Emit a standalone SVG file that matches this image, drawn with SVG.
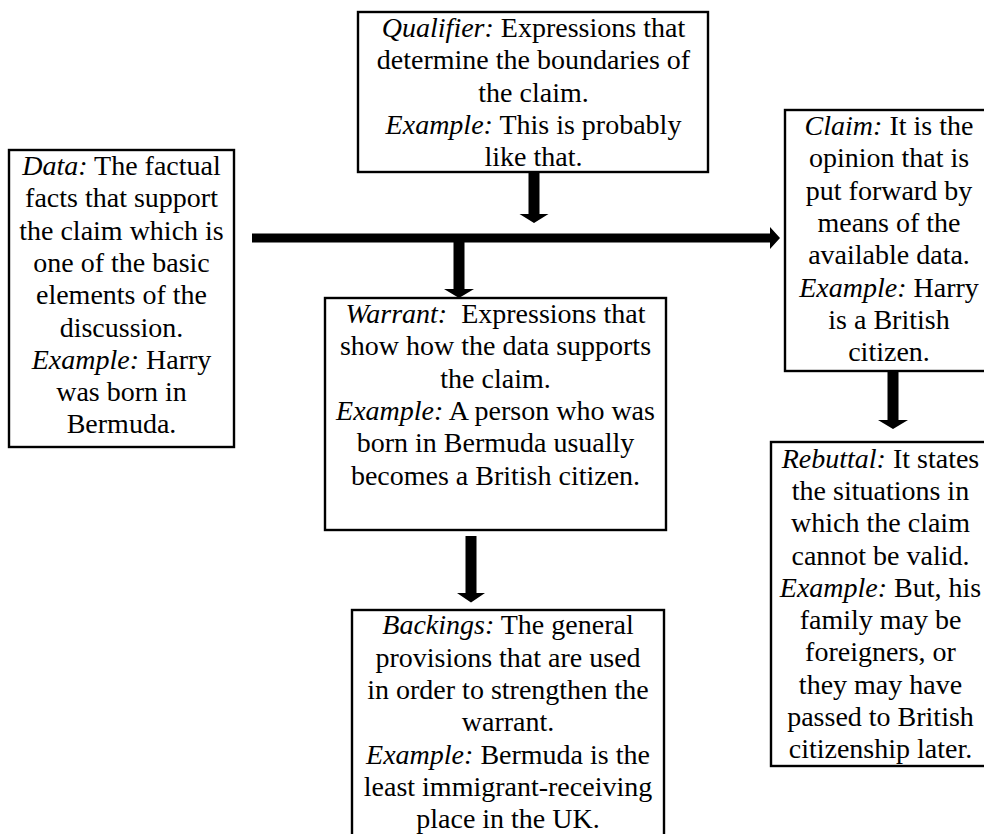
<svg xmlns="http://www.w3.org/2000/svg" width="984" height="834" viewBox="0 0 984 834">
<style>
.box{fill:#fff;stroke:#000;stroke-width:2.4}
text{font-family:"Liberation Serif","Times New Roman",serif;font-size:28px;fill:#000;text-anchor:middle}
.i{font-style:italic}
.arr{fill:#000;stroke:none}
</style>
<rect width="984" height="834" fill="#fff"/>
<g id="qualifier">
<rect class="box" x="358" y="12" width="350" height="160"/>
<text x="533.5" y="37"><tspan class="i">Qualifier:</tspan> Expressions that</text>
<text x="533.5" y="69.3">determine the boundaries of</text>
<text x="533.5" y="101.6">the claim.</text>
<text x="533.5" y="133.9"><tspan class="i">Example:</tspan> This is probably</text>
<text x="533.5" y="166.2">like that.</text>
</g>
<g id="data">
<rect class="box" x="9" y="150" width="225" height="297"/>
<text x="121.5" y="175"><tspan class="i">Data:</tspan> The factual</text>
<text x="121.5" y="207.3">facts that support</text>
<text x="121.5" y="239.6">the claim which is</text>
<text x="121.5" y="271.9">one of the basic</text>
<text x="121.5" y="304.2">elements of the</text>
<text x="121.5" y="336.5">discussion.</text>
<text x="121.5" y="368.8"><tspan class="i">Example:</tspan> Harry</text>
<text x="121.5" y="401.1">was born in</text>
<text x="121.5" y="433.4">Bermuda.</text>
</g>
<g id="claim">
<rect class="box" x="785" y="110" width="208" height="261"/>
<text x="889" y="135"><tspan class="i">Claim:</tspan> It is the</text>
<text x="889" y="167.3">opinion that is</text>
<text x="889" y="199.6">put forward by</text>
<text x="889" y="231.9">means of the</text>
<text x="889" y="264.2">available data.</text>
<text x="889" y="296.5"><tspan class="i">Example:</tspan> Harry</text>
<text x="889" y="328.8">is a British</text>
<text x="889" y="361.1">citizen.</text>
</g>
<g id="warrant">
<rect class="box" x="325" y="298" width="341" height="232"/>
<text x="495.5" y="323" xml:space="preserve"><tspan class="i">Warrant:</tspan>  Expressions that</text>
<text x="495.5" y="355.3">show how the data supports</text>
<text x="495.5" y="387.6">the claim.</text>
<text x="495.5" y="419.9"><tspan class="i">Example:</tspan> A person who was</text>
<text x="495.5" y="452.2">born in Bermuda usually</text>
<text x="495.5" y="484.5">becomes a British citizen.</text>
</g>
<g id="backings">
<rect class="box" x="352" y="610" width="312" height="240"/>
<text x="508" y="634.3"><tspan class="i">Backings:</tspan> The general</text>
<text x="508" y="666.6">provisions that are used</text>
<text x="508" y="698.9">in order to strengthen the</text>
<text x="508" y="731.2">warrant.</text>
<text x="508" y="763.5"><tspan class="i">Example:</tspan> Bermuda is the</text>
<text x="508" y="795.8">least immigrant-receiving</text>
<text x="508" y="828.1">place in the UK.</text>
</g>
<g id="rebuttal">
<rect class="box" x="771" y="442" width="219" height="324"/>
<text x="880.5" y="467.6"><tspan class="i">Rebuttal:</tspan> It states</text>
<text x="880.5" y="499.9">the situations in</text>
<text x="880.5" y="532.2">which the claim</text>
<text x="880.5" y="564.5">cannot be valid.</text>
<text x="880.5" y="596.8"><tspan class="i">Example:</tspan> But, his</text>
<text x="880.5" y="629.1">family may be</text>
<text x="880.5" y="661.4">foreigners, or</text>
<text x="880.5" y="693.7">they may have</text>
<text x="880.5" y="726">passed to British</text>
<text x="880.5" y="758.3">citizenship later.</text>
</g>
<g id="connectors">
<polygon class="arr" points="252,233.5 770,233.5 770,227 780,238 770,249 770,242.5 252,242.5"/>
<polygon class="arr" points="528.5,172 539.5,172 539.5,214 548.5,214 534,223 519.5,214 528.5,214"/>
<polygon class="arr" points="453.5,242 464.5,242 464.5,289 474,289 459,298 444,289 453.5,289"/>
<polygon class="arr" points="465.5,536 476.5,536 476.5,593 485,593 471,602.5 457,593 465.5,593"/>
<polygon class="arr" points="887.5,371 898.5,371 898.5,420 908,420 893,429 878,420 887.5,420"/>
</g>
</svg>
